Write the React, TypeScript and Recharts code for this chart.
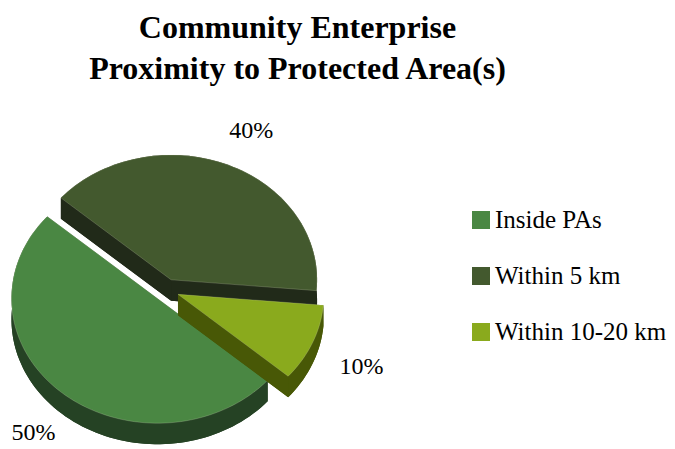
import React from "react";
import { PieChart, Pie, Cell, Legend } from "recharts";

const categories = ["Inside PAs", "Within 5 km", "Within 10-20 km"];
const shares = [50, 40, 10];
const topColors = ["#4a8743", "#43592e", "#8aaa1d"];
const sideColors = ["#254224", "#212a19", "#485806"];

const data = categories.map((name, i) => ({ name, value: shares[i] }));

// fake 3D: squash the pie vertically and extrude it downwards
const TILT = 0.855;
const DEPTH = 21;
const EXPLODE = 13;
const RAD = Math.PI / 180;
const FONT = "Liberation Serif";

type Pt = [number, number];

function arcPoints(x0: number, y0: number, r: number, a0: number, a1: number): Pt[] {
  const n = Math.max(2, Math.ceil(Math.abs(a1 - a0) / 2));
  const pts: Pt[] = [];
  for (let i = 0; i <= n; i++) {
    const a = (a0 + ((a1 - a0) * i) / n) * RAD;
    pts.push([x0 + r * Math.cos(a), y0 - r * TILT * Math.sin(a)]);
  }
  return pts;
}

const toPath = (pts: Pt[]) =>
  "M" + pts.map((p) => p[0].toFixed(2) + "," + p[1].toFixed(2)).join("L") + "Z";

function Slice3D(props: any) {
  const { cx, cy, outerRadius, startAngle, endAngle } = props;
  const mid = props.midAngle ?? (startAngle + endAngle) / 2;
  const name = props.name ?? props.payload?.name;
  const idx = Math.max(0, categories.indexOf(name));
  const m = mid * RAD;
  const x0 = cx + EXPLODE * Math.cos(m);
  const y0 = cy - EXPLODE * TILT * Math.sin(m);
  const arc = arcPoints(x0, y0, outerRadius, startAngle, endAngle);
  const apex: Pt = [x0, y0];
  const down = (p: Pt): Pt => [p[0], p[1] + DEPTH];
  const top: Pt[] = [apex, ...arc];
  const first = arc[0];
  const last = arc[arc.length - 1];
  const side = sideColors[idx];
  return (
    <g>
      <path d={toPath(top.map(down))} fill={side} />
      <path d={toPath([apex, first, down(first), down(apex)])} fill={side} />
      <path d={toPath([apex, last, down(last), down(apex)])} fill={side} />
      <path d={toPath([...arc, ...arc.slice().reverse().map(down)])} fill={side} />
      <path d={toPath(top)} fill={topColors[idx]} stroke="#e8eed0" strokeOpacity={0.35} strokeWidth={0.6} />
    </g>
  );
}

function renderLabel(props: any) {
  const { cx, cy, midAngle, percent } = props;
  const m = midAngle * RAD;
  const x = cx + 4 + 208 * Math.cos(m);
  const y = cy + 6 - 180 * Math.sin(m);
  return (
    <text
      x={x}
      y={y}
      textAnchor="middle"
      dominantBaseline="central"
      fill="#000"
      fontSize={24}
      style={{ fontFamily: FONT }}
    >
      {`${Math.round(percent * 100)}%`}
    </text>
  );
}

function renderLegend() {
  return (
    <div style={{ fontFamily: FONT, fontSize: 25, color: "#000" }}>
      {categories.map((name, i) => (
        <div key={name} style={{ display: "flex", height: 25, lineHeight: "25px", marginBottom: 31 }}>
          <span
            style={{ width: 18, height: 18, marginTop: 4, marginRight: 5, background: topColors[i], display: "inline-block" }}
          />
          <span style={{ whiteSpace: "nowrap", fontFamily: FONT }}>{name}</span>
        </div>
      ))}
    </div>
  );
}

export default function App() {
  return (
    <div style={{ position: "absolute", left: 0, top: 0, width: 675, height: 449, background: "#fff", fontFamily: FONT }}>
      <div
        style={{
          position: "absolute",
          left: 0,
          top: 7,
          width: 595,
          textAlign: "center",
          fontWeight: "bold",
          fontSize: 32,
          lineHeight: "41px",
          color: "#000",
        }}
      >
        Community Enterprise
        <br />
        Proximity to Protected Area(s)
      </div>
      <PieChart width={675} height={449} margin={{ top: 0, right: 0, bottom: 0, left: 0 }}>
        <Pie
          data={data}
          dataKey="value"
          nameKey="name"
          cx={166}
          cy={290}
          outerRadius={146}
          startAngle={-41}
          endAngle={-401}
          stroke="none"
          shape={Slice3D}
          label={renderLabel}
          labelLine={false}
          isAnimationActive={false}
        >
          {data.map((d, i) => (
            <Cell key={d.name} fill={topColors[i]} />
          ))}
        </Pie>
        <Legend content={renderLegend} wrapperStyle={{ left: 472, top: 207, width: 200, bottom: "auto" }} />
      </PieChart>
    </div>
  );
}
